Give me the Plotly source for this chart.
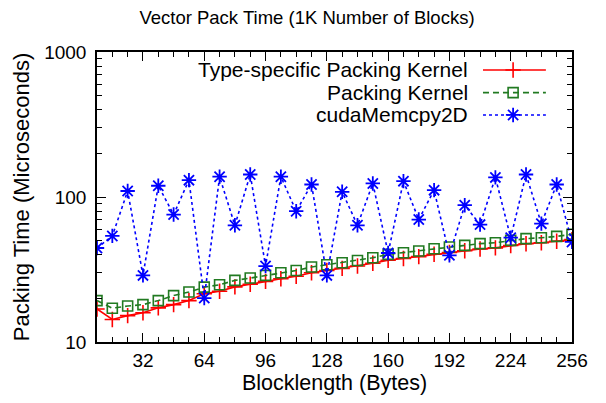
import plotly.graph_objects as go

blocklength = list(range(8, 257, 8))

type_specific = [16.9, 14.3, 15.2, 15.9, 17.2, 18.1, 19.3, 21.5, 22.4, 24.0, 25.0, 26.2,
                 27.3, 28.4, 30.0, 31.1, 32.2, 33.4, 34.9, 36.6, 37.7, 38.8, 40.3, 41.4,
                 42.6, 43.8, 44.6, 46.3, 47.6, 48.4, 49.5, 50.8]
packing_kernel = [19.3, 17.1, 17.7, 18.1, 19.3, 20.9, 22.1, 23.9, 24.8, 26.6, 27.6, 28.8,
                  30.0, 31.1, 32.9, 34.1, 35.2, 36.5, 38.1, 40.2, 41.3, 42.4, 44.0, 45.2,
                  46.4, 47.7, 48.4, 50.2, 51.6, 52.4, 53.5, 55.3]
memcpy2d = [44.5, 53.9, 110, 28.8, 119.6, 75.7, 130.7, 20.1, 138, 63.8, 143, 33.4,
            138, 79.8, 122, 28.8, 108.6, 63.8, 124, 41.1, 128.6, 69.9, 111.5, 39.6,
            87.8, 64.5, 136.5, 52.4, 143, 65.5, 122, 49.0]

series_names = ["Type-specific Packing Kernel", "Packing Kernel", "cudaMemcpy2D"]
x_tickvals = [32, 64, 96, 128, 160, 192, 224, 256]
y_tickvals = [10, 100, 1000]

RED = "#ff0000"
GREEN = "#217a21"
BLUE = "#0000ff"
FONT = "Liberation Sans, Arial, sans-serif"

styles = [
    dict(color=RED, dash="solid", symbol="cross-thin", size=11, mlw=1.6),
    dict(color=GREEN, dash="6px,4px", symbol="square-open", size=10, mlw=1.6),
    dict(color=BLUE, dash="3px,3px", symbol="asterisk-open", size=12, mlw=1.8),
]

fig = go.Figure()
for name, ys, st in zip(series_names, [type_specific, packing_kernel, memcpy2d], styles):
    fig.add_trace(go.Scatter(
        x=blocklength, y=ys, mode="lines+markers", name=name,
        line=dict(color=st["color"], width=1.6, dash=st["dash"]),
        marker=dict(symbol=st["symbol"], size=st["size"], color=st["color"],
                    line=dict(color=st["color"], width=st["mlw"])),
        showlegend=False, cliponaxis=True,
    ))

# gnuplot-style legend (text on left, sample on right) on an overlay axis
leg_rows = [0.938, 0.860, 0.783]
for name, yr, st in zip(series_names, leg_rows, styles):
    fig.add_trace(go.Scatter(
        x=[0.8126, 0.945], y=[yr, yr], mode="lines", xaxis="x2", yaxis="y2",
        line=dict(color=st["color"], width=1.6, dash=st["dash"]), showlegend=False,
        hoverinfo="skip"))
    fig.add_trace(go.Scatter(
        x=[0.876], y=[yr], mode="markers", xaxis="x2", yaxis="y2",
        marker=dict(symbol=st["symbol"], size=st["size"], color=st["color"],
                    line=dict(color=st["color"], width=st["mlw"])),
        showlegend=False, hoverinfo="skip"))
    fig.add_annotation(x=0.785, y=yr, xref="paper", yref="paper", text=name,
                       showarrow=False, xanchor="right", yanchor="middle",
                       font=dict(size=21, color="black", family=FONT))

minor_y = [m * 10 ** e for e in (1, 2) for m in range(2, 10)]

# the page adds an 8px body margin, so the figure is shifted by 8px
W, H = 598, 395
fig.update_layout(
    width=W, height=H,
    margin=dict(l=89, r=34, t=44, b=61, autoexpand=False),
    paper_bgcolor="white", plot_bgcolor="white",
    font=dict(family=FONT, size=18, color="black"),
    title=dict(text="Vector Pack Time (1K Number of Blocks)", x=0.5, xanchor="center",
               xref="container", y=1 - 10 / H, yref="container", yanchor="middle",
               font=dict(size=18.5)),
    xaxis=dict(range=[8, 256], tickmode="array", tickvals=x_tickvals, automargin=False,
               ticks="inside", ticklen=9, tickwidth=1.3, tickcolor="black",
               showline=True, linecolor="black", linewidth=1.5, mirror="ticks",
               showgrid=False, zeroline=False,
               minor=dict(tickmode="array", tickvals=blocklength, ticks="inside",
                          ticklen=5, tickwidth=1.3, tickcolor="black", showgrid=False),
               title=dict(text="Blocklength (Bytes)", standoff=3, font=dict(size=21.5)),
               tickfont=dict(size=19)),
    yaxis=dict(type="log", range=[1, 3], tickmode="array", tickvals=y_tickvals,
               ticktext=[str(v) for v in y_tickvals], automargin=False,
               ticks="inside", ticklen=9, tickwidth=1.3, tickcolor="black",
               showline=True, linecolor="black", linewidth=1.5, mirror="ticks",
               showgrid=False, zeroline=False, ticklabelstandoff=5,
               minor=dict(tickmode="array", tickvals=minor_y, ticks="inside",
                          ticklen=5, tickwidth=1.3, tickcolor="black", showgrid=False),
               title=dict(text="Packing Time (Microseconds)", standoff=8, font=dict(size=22)),
               tickfont=dict(size=19)),
    xaxis2=dict(overlaying="x", range=[0, 1], visible=False, fixedrange=True),
    yaxis2=dict(overlaying="y", range=[0, 1], visible=False, fixedrange=True),
)

fig.write_html("out.html")
